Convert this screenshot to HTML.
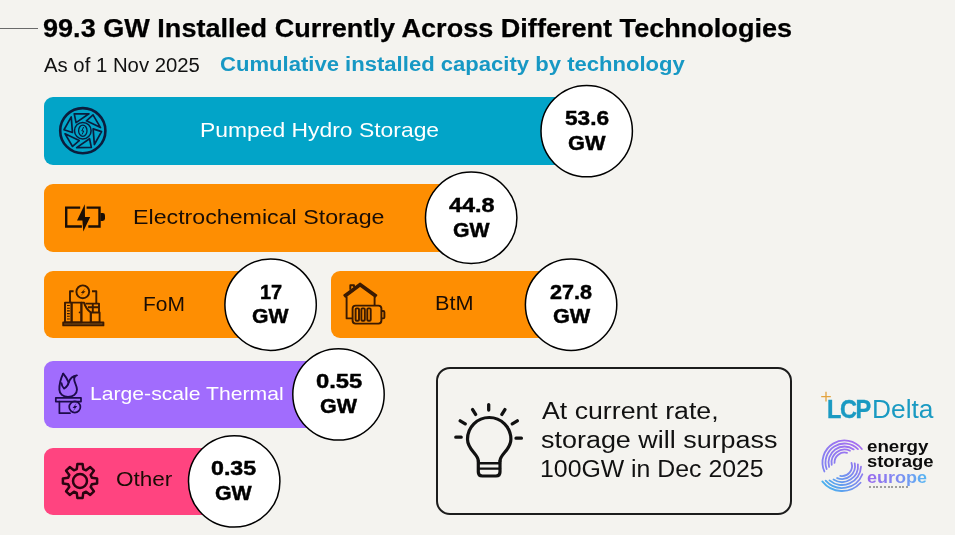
<!DOCTYPE html>
<html><head><meta charset="utf-8">
<style>
html,body{margin:0;padding:0;}
body{width:955px;height:535px;overflow:hidden;background:#f4f3ef;position:relative;font-family:"Liberation Sans",sans-serif;}
.a{position:absolute;white-space:nowrap;line-height:1;transform-origin:0 0;}
.bar{position:absolute;left:44px;border-radius:9px;}
.circ{position:absolute;border:2px solid #000;border-radius:50%;background:#fff;box-sizing:border-box;}
svg{position:absolute;left:0;top:0;}
</style></head><body>
<div class="a" style="left:0;top:28px;width:38px;height:1.2px;background:#6a6a6a;"></div>

<!-- bars -->
<div class="bar" style="top:97px;width:530px;height:68px;background:#02a4c8;"></div>
<div class="bar" style="top:184px;width:420px;height:68px;background:#fe8e02;"></div>
<div class="bar" style="top:271px;width:220px;height:67px;background:#fe8e02;"></div>
<div class="bar" style="left:331px;top:271px;width:220px;height:67px;background:#fe8e02;"></div>
<div class="bar" style="top:361px;width:290px;height:67px;background:#a16cfd;"></div>
<div class="bar" style="top:448px;width:180px;height:67px;background:#ff4480;"></div>

<svg width="955" height="535" viewBox="0 0 955 535">
 <g fill="#fff" stroke="#000" stroke-width="1.5">
  <circle cx="586.7" cy="131.1" r="45.7"/>
  <circle cx="471.2" cy="217.8" r="45.7"/>
  <circle cx="270.6" cy="304.7" r="45.7"/>
  <circle cx="571.1" cy="304.7" r="45.7"/>
  <circle cx="338.5" cy="394.4" r="45.7"/>
  <circle cx="234.2" cy="481.4" r="45.7"/>
 </g>
</svg>
<!-- info box -->
<div class="a" style="left:436px;top:367px;width:356px;height:148px;border:2px solid #1c1c1c;border-radius:14px;box-sizing:border-box;"></div>

<svg width="955" height="535" viewBox="0 0 955 535">
 <!-- turbine -->
 <g fill="none" stroke="#0b1d3d" stroke-linejoin="round">
  <circle cx="82.8" cy="130.7" r="22.6" stroke-width="2.6"/>
  <path stroke-width="1.7" d="M74.26,113.95 L88.96,113.79 L76.05,122.66 Z M93.04,114.93 L100.53,127.57 L86.39,120.83 Z M101.57,131.68 L94.37,144.49 L93.14,128.88 Z M91.34,147.45 L76.64,147.61 L89.55,138.74 Z M72.56,146.47 L65.07,133.83 L79.21,140.57 Z M64.03,129.72 L71.23,116.91 L72.46,132.52 Z"/>
  <circle cx="82.8" cy="130.7" r="8.3" stroke-width="1.5"/>
  <ellipse cx="82.8" cy="130.7" rx="4.2" ry="5.6" stroke-width="1.3"/>
  <path stroke-width="1" d="M83.6,127 L81.8,131 L83.8,131 L82,134.5"/>
 </g>
 <!-- battery -->
 <g fill="none" stroke="#1a0e05" stroke-width="2.4" stroke-linecap="butt">
  <path d="M80.2,207.6 H66.2 V226.5 H81.9"/>
  <path d="M86.6,207.6 H99.5 V226.5 H88.3"/>
 </g>
 <path fill="#1a0e05" d="M100.5,213.1 H102.6 Q105,213.1 105,215.5 V218.5 Q105,220.9 102.6,220.9 H100.5 Z"/>
 <path fill="#1a0e05" d="M84.8,204.3 L77.0,220.6 L82.4,220.6 L83.3,231.6 L90.2,217.0 L85.0,217.0 Z"/>
 <!-- FoM building -->
 <g fill="none" stroke="#3a1a02" stroke-width="1.9" stroke-linejoin="round">
  <circle cx="82.8" cy="291.8" r="6.4"/>
  <path d="M73.6,291.2 H70 V302.4 M92,291.2 H96.3 V303.5"/>
  <rect x="63.2" y="322.4" width="40.2" height="3" fill="#7a4a10"/>
  <rect x="65" y="302.6" width="6.6" height="19.8"/>
  <rect x="71.6" y="302.6" width="9.8" height="19.8"/>
  <path d="M81.4,322.4 V302.6 H84 Q86,309 90.8,312.5 V322.4"/>
  <rect x="90.8" y="312.5" width="8.8" height="9.9"/>
  <path d="M85.5,303.6 H99 V312.5 M88,307.2 H99 M92.8,303.6 V312.5"/>
  <path d="M67,305.5 H69.8 M67,308.2 H69.8 M67,310.9 H69.8 M67,313.6 H69.8 M67,316.3 H69.8 M67,319 H69.8" stroke-width="1.1"/>
 </g>
 <path fill="#3a1a02" d="M85.2,288.2 L80.8,293 L83,293 L80.4,296.2 L85.6,291.2 L83.3,291.2 Z"/>
 <circle cx="79.6" cy="312.4" r="0.9" fill="#3a1a02"/>
 <!-- house + battery -->
 <g fill="none" stroke="#3a1a02" stroke-width="1.9" stroke-linejoin="round">
  <path d="M344.2,295.2 L360.1,283.4 L376.4,295.2 L375.2,296.8 L360.1,285.8 L345.4,296.8 Z"/>
  <path d="M350.3,289.8 V285.2 H354 V287.2"/>
  <path d="M346.6,296.5 V318.4 H352.2 M374.6,296.5 V305.3"/>
  <rect x="352.6" y="305.6" width="28.8" height="18" rx="3"/>
  <path d="M381.4,311 H383.2 Q384.4,311 384.4,312.2 V317.2 Q384.4,318.4 383.2,318.4 H381.4"/>
  <rect x="355.6" y="308.4" width="3.4" height="12.4" rx="1"/>
  <rect x="361.4" y="308.4" width="3.4" height="12.4" rx="1"/>
  <rect x="367.3" y="308.4" width="3.4" height="12.4" rx="1"/>
 </g>
 <!-- thermal -->
 <g fill="none" stroke="#1d0b4a" stroke-width="1.7" stroke-linejoin="round" stroke-linecap="round">
  <g transform="translate(68,0) scale(1.12,1) translate(-68,0)">
  <path d="M63.7,373.6 C61.5,378.5 60.2,384.5 60.3,389.8 C60.4,394 63.6,396.9 68,396.9 C72.6,396.9 76,394 76,389.5 C76,385.2 73.2,382 73.5,378.6 C73.7,377 74.7,375.9 76,375.3 C72.5,375.8 69.8,378.3 68.6,382.4"/>
  <path d="M63.7,373.6 C65.6,376 67.3,378.6 68.6,382.4 C68.2,385 66.4,387.4 64.6,388.6 C63.2,387 62.3,385.2 62.2,383.2"/>
  </g>
  <rect x="55.8" y="397.9" width="25.2" height="3.7"/>
  <path d="M59.4,401.6 V413.2 H70"/>
  <circle cx="74.8" cy="407" r="5.6"/>
 </g>
 <path fill="#1d0b4a" d="M76.8,402.8 L72.6,408 L74.8,408 L72.9,411.4 L77.2,406 L75,406 Z"/>
 <!-- gear -->
 <g fill="none" stroke="#2a0410" stroke-width="2.5" stroke-linejoin="round">
  <path d="M91.86,477.74 L97.10,478.41 L97.10,483.59 L91.86,484.26 L90.69,487.08 L93.93,491.26 L90.26,494.93 L86.08,491.69 L83.26,492.86 L82.59,498.10 L77.41,498.10 L76.74,492.86 L73.92,491.69 L69.74,494.93 L66.07,491.26 L69.31,487.08 L68.14,484.26 L62.90,483.59 L62.90,478.41 L68.14,477.74 L69.31,474.92 L66.07,470.74 L69.74,467.07 L73.92,470.31 L76.74,469.14 L77.41,463.90 L82.59,463.90 L83.26,469.14 L86.08,470.31 L90.26,467.07 L93.93,470.74 L90.69,474.92 Z"/>
  <circle cx="80" cy="481" r="7"/>
 </g>
 <!-- bulb -->
 <g fill="none" stroke="#111" stroke-width="3.2" stroke-linecap="round" stroke-linejoin="round">
  <path d="M478.3,461 C478.3,454 467.5,450 467.5,439.2 A21.7,21.7 0 1 1 510.9,439.2 C510.9,450 500,454 500,461"/>
  <path d="M478.3,461 V472 Q478.3,476 482.3,476 H496 Q500,476 500,472 V461"/>
  <path d="M478.3,463.2 H500 M478.3,468.6 H500" stroke-width="2.4"/>
  <path d="M488.7,404.6 V410 M472.6,409.6 L475.6,414.4 M504.9,409.6 L501.9,414.4 M460.2,420.8 L465.2,423.8 M517.3,420.8 L512.3,423.8 M455.8,437.2 H461.2 M516,438.2 H521.4" stroke-width="3.3"/>
 </g>
 <!-- LCP plus -->
 <path d="M821.2,396.6 H830.8 M826,391.8 V401.4" stroke="#e3a33e" stroke-width="1.3" fill="none"/>
 <!-- ese swirl -->
 <defs>
  <linearGradient id="su" gradientUnits="userSpaceOnUse" x1="860" y1="445" x2="825" y2="480">
   <stop offset="0" stop-color="#a66ef0"/><stop offset="1" stop-color="#7b86f2"/>
  </linearGradient>
  <linearGradient id="sl" gradientUnits="userSpaceOnUse" x1="860" y1="460" x2="825" y2="490">
   <stop offset="0" stop-color="#9a72f0"/><stop offset="1" stop-color="#45b4ee"/>
  </linearGradient>
  <linearGradient id="tg" x1="0" y1="0" x2="1" y2="0">
   <stop offset="0" stop-color="#9b6cf3"/><stop offset="1" stop-color="#5fb3f3"/>
  </linearGradient>
 </defs>
 <g fill="none" stroke-width="1.8" stroke-linecap="round">
 <path stroke="url(#su)" d="M861.84,448.96 A22.00,22.00 0 0 0 824.40,471.45"/>
 <path stroke="url(#su)" d="M857.94,449.06 A19.00,19.00 0 0 0 826.65,469.00"/>
 <path stroke="url(#su)" d="M853.68,449.39 A16.00,16.00 0 0 0 829.12,466.91"/>
 <path stroke="url(#su)" d="M849.99,450.72 A13.00,13.00 0 0 0 831.70,464.76"/>
 <path stroke="url(#su)" d="M847.09,452.84 A10.00,10.00 0 0 0 834.51,462.85"/>
 <path stroke="url(#sl)" d="M851.51,462.91 A10.00,10.00 0 0 1 840.26,475.85"/>
 <path stroke="url(#sl)" d="M854.72,463.30 A13.00,13.00 0 0 1 837.13,478.05"/>
 <path stroke="url(#sl)" d="M857.91,464.33 A16.00,16.00 0 0 1 833.52,479.57"/>
 <path stroke="url(#sl)" d="M860.99,466.66 A19.00,19.00 0 0 1 829.53,480.34"/>
 <path stroke="url(#sl)" d="M862.40,474.24 A22.00,22.00 0 0 1 825.65,480.72"/>
 <path stroke="url(#sl)" d="M860.58,482.73 A25.00,25.00 0 0 1 822.30,481.39"/>
</g>
</svg>

<div class="a" style="left:43.46px;top:14.60px;font-size:26px;font-weight:bold;color:#000;transform:scaleX(1.0411);-webkit-text-stroke:0.25px #000;">99.3 GW Installed Currently Across Different Technologies</div>
<div class="a" style="left:43.90px;top:55.60px;font-size:19.5px;font-weight:normal;color:#111;transform:scaleX(1.0423);">As of 1 Nov 2025</div>
<div class="a" style="left:220.10px;top:53.80px;font-size:20px;font-weight:bold;color:#1798c4;transform:scaleX(1.1036);">Cumulative installed capacity by technology</div>
<div class="a" style="left:200.02px;top:118.90px;font-size:21px;font-weight:normal;color:#fff;transform:scaleX(1.0894);">Pumped Hydro Storage</div>
<div class="a" style="left:132.69px;top:205.80px;font-size:21px;font-weight:normal;color:#1a0d05;transform:scaleX(1.1049);">Electrochemical Storage</div>
<div class="a" style="left:142.86px;top:293.50px;font-size:20.5px;font-weight:normal;color:#1a0d05;transform:scaleX(1.0211);">FoM</div>
<div class="a" style="left:434.58px;top:293.30px;font-size:20.5px;font-weight:normal;color:#1a0d05;transform:scaleX(1.0576);">BtM</div>
<div class="a" style="left:89.77px;top:383.90px;font-size:19px;font-weight:normal;color:#fff;transform:scaleX(1.1135);">Large-scale Thermal</div>
<div class="a" style="left:116.07px;top:469.30px;font-size:20px;font-weight:normal;color:#1a0d05;transform:scaleX(1.1265);">Other</div>
<div class="a" style="left:542.00px;top:399.60px;font-size:23.5px;font-weight:normal;color:#111;transform:scaleX(1.1364);">At current rate,</div>
<div class="a" style="left:540.85px;top:428.50px;font-size:23.5px;font-weight:normal;color:#111;transform:scaleX(1.1461);">storage will surpass</div>
<div class="a" style="left:539.69px;top:457.60px;font-size:23.5px;font-weight:normal;color:#111;transform:scaleX(1.0569);">100GW in Dec 2025</div>
<div class="a" style="left:564.52px;top:106.70px;font-size:21px;font-weight:bold;color:#000;transform:scaleX(1.0795);-webkit-text-stroke:0.45px #000;">53.6</div>
<div class="a" style="left:567.91px;top:132.90px;font-size:20px;font-weight:bold;color:#000;transform:scaleX(1.0879);-webkit-text-stroke:0.45px #000;">GW</div>
<div class="a" style="left:448.60px;top:193.80px;font-size:21px;font-weight:bold;color:#000;transform:scaleX(1.1175);-webkit-text-stroke:0.45px #000;">44.8</div>
<div class="a" style="left:452.64px;top:219.80px;font-size:20px;font-weight:bold;color:#000;transform:scaleX(1.0606);-webkit-text-stroke:0.45px #000;">GW</div>
<div class="a" style="left:259.50px;top:280.60px;font-size:21px;font-weight:bold;color:#000;transform:scaleX(0.9500);-webkit-text-stroke:0.45px #000;">17</div>
<div class="a" style="left:252.24px;top:306.30px;font-size:20px;font-weight:bold;color:#000;transform:scaleX(1.0576);-webkit-text-stroke:0.45px #000;">GW</div>
<div class="a" style="left:550.37px;top:280.60px;font-size:21px;font-weight:bold;color:#000;transform:scaleX(1.0282);-webkit-text-stroke:0.45px #000;">27.8</div>
<div class="a" style="left:552.62px;top:306.30px;font-size:20px;font-weight:bold;color:#000;transform:scaleX(1.0818);-webkit-text-stroke:0.45px #000;">GW</div>
<div class="a" style="left:315.57px;top:370.10px;font-size:21px;font-weight:bold;color:#000;transform:scaleX(1.1333);-webkit-text-stroke:0.45px #000;">0.55</div>
<div class="a" style="left:319.73px;top:395.70px;font-size:20px;font-weight:bold;color:#000;transform:scaleX(1.0727);-webkit-text-stroke:0.45px #000;">GW</div>
<div class="a" style="left:211.09px;top:457.10px;font-size:21px;font-weight:bold;color:#000;transform:scaleX(1.1051);-webkit-text-stroke:0.45px #000;">0.35</div>
<div class="a" style="left:214.93px;top:482.70px;font-size:20px;font-weight:bold;color:#000;transform:scaleX(1.0667);-webkit-text-stroke:0.45px #000;">GW</div>
<div class="a" style="left:827.46px;top:396.50px;font-size:25.5px;font-weight:bold;color:#1a9ac2;letter-spacing:-1.5px;transform:scaleX(0.9222);-webkit-text-stroke:0.4px #1a9ac2;">LCP</div>
<div class="a" style="left:872.44px;top:396.50px;font-size:25.5px;font-weight:normal;color:#1a9ac2;transform:scaleX(1.0316);">Delta</div>
<div class="a" style="left:867.03px;top:439.20px;font-size:16px;font-weight:bold;color:#0c0c0c;transform:scaleX(1.1706);">energy</div>
<div class="a" style="left:867.05px;top:454.40px;font-size:16px;font-weight:bold;color:#0c0c0c;transform:scaleX(1.1500);">storage</div>
<div class="a" style="left:867.07px;top:470.10px;font-size:16px;font-weight:bold;color:transparent;transform:scaleX(1.1269);background:linear-gradient(90deg,#9a68ee,#7d8ef2 55%,#55b6f2);-webkit-background-clip:text;background-clip:text;">europe</div>

<div class="a" style="left:868.5px;top:486px;width:41px;height:2px;background:repeating-linear-gradient(90deg,#666 0 2px,transparent 2px 3.7px);opacity:0.6;"></div>
</body></html>
